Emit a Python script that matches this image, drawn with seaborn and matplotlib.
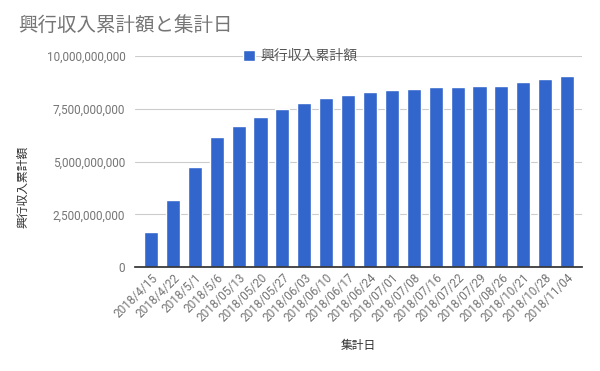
import numpy as np
import pandas as pd
import matplotlib
matplotlib.use('Agg')
import matplotlib.pyplot as plt
import seaborn as sns
from matplotlib.ticker import FuncFormatter

# data
dates = ['2018/4/15', '2018/4/22', '2018/5/1', '2018/5/6', '2018/05/13', '2018/05/20',
         '2018/05/27', '2018/06/03', '2018/06/10', '2018/06/17', '2018/06/24', '2018/07/01',
         '2018/07/08', '2018/07/16', '2018/07/22', '2018/07/29', '2018/08/26', '2018/10/21',
         '2018/10/28', '2018/11/04']
totals = [1.64e9, 3.20e9, 4.76e9, 6.17e9, 6.69e9, 7.12e9, 7.50e9, 7.78e9, 8.02e9, 8.16e9,
          8.31e9, 8.41e9, 8.46e9, 8.55e9, 8.55e9, 8.60e9, 8.60e9, 8.79e9, 8.93e9, 9.03e9]
yticks = [0, 2.5e9, 5e9, 7.5e9, 10e9]

df = pd.DataFrame({'集計日': dates, '興行収入累計額': totals})

sns.set_theme(style='white')
plt.rcParams['font.family'] = ['Noto Sans CJK JP', 'DejaVu Sans']

fig = plt.figure(figsize=(6, 3.71), dpi=100)
ax = fig.add_axes([0.225, 0.28, 0.745, 0.569])

sns.barplot(data=df, x='集計日', y='興行収入累計額', color='#3366cc', width=0.64,
            saturation=1, ax=ax, label='興行収入累計額')

ax.set_ylim(0, 10e9)
ax.set_yticks(yticks)
ax.yaxis.set_major_formatter(FuncFormatter(lambda v, p: f'{int(v):,}'))
ax.grid(axis='y', color='#cccccc', linewidth=0.8)
ax.set_axisbelow(True)
for s in ['top', 'right', 'left']:
    ax.spines[s].set_visible(False)
ax.spines['bottom'].set_color('#333333')
ax.tick_params(axis='y', length=0, labelsize=8.5, labelcolor='#757575', pad=7)
ax.tick_params(axis='x', length=0, labelsize=8.5, labelcolor='#757575', pad=3)
for lab in ax.get_yticklabels():
    lab.set_family(['Roboto', 'DejaVu Sans'])
for lab in ax.get_xticklabels():
    lab.set_family(['Roboto', 'DejaVu Sans'])
    lab.set_rotation(45)
    lab.set_ha('right')
    lab.set_rotation_mode('anchor')
ax.set_xlim(-0.73, len(dates) - 0.32)

ax.set_xlabel('')
ax.set_ylabel('')
fig.text(358 / 600, 1 - 346 / 371, '集計日', fontsize=8.5, color='#333333',
         ha='center', va='center')
fig.text(23 / 600, 1 - 187 / 371, '興行収入累計額', fontsize=8.5, color='#333333',
         ha='center', va='center', rotation=90)

leg = ax.legend(loc='center', bbox_to_anchor=(0.369, 1.0), frameon=False,
                fontsize=10, handlelength=0.85, handleheight=0.85, handletextpad=0.4,
                borderaxespad=0, borderpad=0)
for t in leg.get_texts():
    t.set_color('#555555')

fig.text(18 / 600, 1 - 25 / 371, '興行収入累計額と集計日', fontsize=14, color='#757575',
         va='center')

fig.savefig('out.png', dpi=100)
